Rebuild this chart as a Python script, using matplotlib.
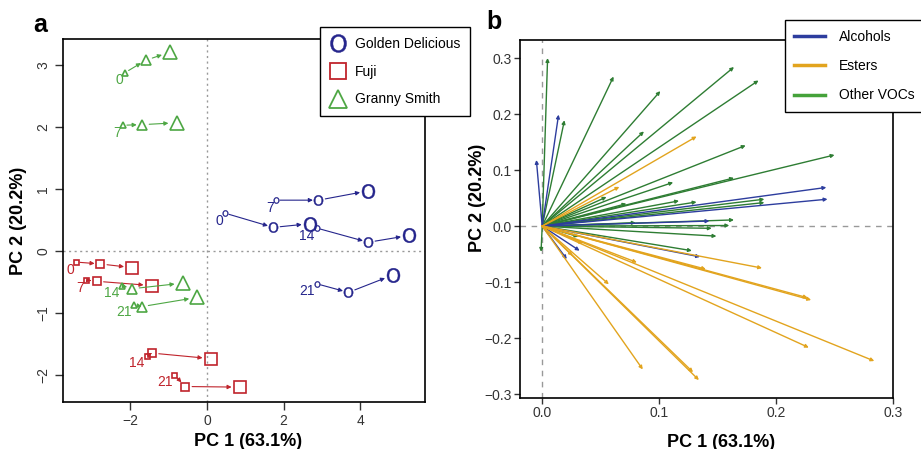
import matplotlib
matplotlib.use("Agg")
import matplotlib.pyplot as plt
from matplotlib.lines import Line2D
from matplotlib.ticker import FuncFormatter

plt.rcParams["font.family"] = ["Liberation Sans", "DejaVu Sans"]

# ---- panel a: sample scores, 4 storage times x 3 points per cultivar ----
days = ["0", "7", "14", "21"]

gd_x = [[0.47, 1.73, 2.69], [1.80, 2.91, 4.21], [2.86, 4.21, 5.28], [2.86, 3.69, 4.85]]
gd_y = [[0.61, 0.38, 0.44], [0.82, 0.82, 0.97], [0.37, 0.14, 0.25], [-0.53, -0.67, -0.39]]

fuji_x = [[-3.42, -2.79, -1.95], [-3.16, -2.88, -1.44], [-1.57, -1.44, 0.10], [-0.85, -0.57, 0.86]]
fuji_y = [[-0.18, -0.21, -0.27], [-0.47, -0.49, -0.56], [-1.69, -1.65, -1.74], [-2.00, -2.19, -2.20]]

gs_x = [[-2.14, -1.60, -0.97], [-2.20, -1.69, -0.79], [-2.23, -1.95, -0.63], [-1.90, -1.71, -0.25]]
gs_y = [[2.88, 3.08, 3.21], [2.03, 2.04, 2.07], [-0.56, -0.61, -0.52], [-0.87, -0.90, -0.75]]

# ---- panel b: loadings (arrow tips) ----
alc_x = [-0.005, 0.014, 0.243, 0.244, 0.143, 0.135, 0.032, 0.021]
alc_y = [0.118, 0.199, 0.069, 0.048, 0.009, -0.055, -0.044, -0.059]

est_x = [0.132, 0.066, 0.188, 0.227, 0.230, 0.228, 0.284, 0.086, 0.134, 0.129,
         0.057, 0.081, 0.140, 0.026, 0.035]
est_y = [0.160, 0.070, -0.075, -0.128, -0.132, -0.217, -0.241, -0.256, -0.275, -0.261,
         -0.104, -0.065, -0.077, -0.053, -0.031]

oth_x = [0.0046, 0.061, 0.101, 0.164, 0.185, 0.019, 0.087, 0.174, 0.250, 0.112,
         0.164, 0.055, 0.072, 0.117, 0.132, 0.190, 0.190, 0.164, 0.080, 0.160,
         0.145, 0.149, 0.128, -0.001, 0.031]
oth_y = [0.300, 0.267, 0.241, 0.284, 0.260, 0.189, 0.169, 0.144, 0.127, 0.078,
         0.086, 0.052, 0.040, 0.045, 0.043, 0.048, 0.042, 0.011, 0.006, 0.001,
         -0.004, -0.018, -0.044, -0.046, -0.019]

C_GD, C_FUJI, C_GS = "#25258c", "#c0242c", "#4ea744"
C_ALC, C_EST, C_OTH = "#2d3d9e", "#e2a41e", "#2e7d33"
O_MARK = r"$\mathsf{O}$"


def minus_fmt(v, _):
    return f"{v:.1f}".replace("-", "\u2212")


fig = plt.figure(figsize=(9.21, 4.49), dpi=100)
ax = fig.add_axes([0.0684, 0.1047, 0.393, 0.808])
bx = fig.add_axes([0.5646, 0.1136, 0.405, 0.797])

# ---------------- panel a ----------------
groups = [
    (gd_x, gd_y, C_GD, O_MARK, [4.5, 7.5, 10.5]),
    (fuji_x, fuji_y, C_FUJI, "s", [3.6, 6.0, 8.6]),
    (gs_x, gs_y, C_GS, "^", [4.5, 7.5, 10.5]),
]
for xs, ys, c, mk, sizes in groups:
    for k, (tx, ty) in enumerate(zip(xs, ys)):
        for i in range(2):
            ax.annotate("", xy=(tx[i + 1], ty[i + 1]), xytext=(tx[i], ty[i]),
                        arrowprops=dict(arrowstyle="-|>", color=c, lw=0.8,
                                        mutation_scale=6, shrinkA=3 + i * 2, shrinkB=4 + i * 2))
        for i in range(3):
            if mk == O_MARK:
                ax.plot(tx[i], ty[i], marker=mk, ms=sizes[i], color=c, mec=c, mew=0.3,
                        ls="none", zorder=3)
            else:
                ax.plot(tx[i], ty[i], marker=mk, ms=sizes[i], mfc="none", mec=c, mew=1.2,
                        ls="none", zorder=3)
        ax.annotate(days[k], (tx[0], ty[0]), xytext=(-1.5, -5.5), textcoords="offset points",
                    ha="right", va="center", color=c, fontsize=10)

ax.axhline(0, color="#999999", lw=1, ls=(0, (1.5, 2.5)), zorder=0)
ax.axvline(0, color="#999999", lw=1, ls=(0, (1.5, 2.5)), zorder=0)
ax.set_xlim(-3.76, 5.69)
ax.set_ylim(-2.44, 3.42)
ax.set_xticks([-2, 0, 2, 4])
ax.set_yticks([-2, -1, 0, 1, 2, 3])
ax.tick_params(length=6, width=1, labelsize=10, colors="#333333", pad=3)
ax.tick_params(axis="y", pad=3)
for lab in ax.get_yticklabels():
    lab.set_rotation(90)
    lab.set_va("center")
for s in ax.spines.values():
    s.set_linewidth(1.2)
ax.set_xlabel("PC 1 (63.1%)", fontsize=13, fontweight="bold")
ax.set_ylabel("PC 2 (20.2%)", fontsize=13, fontweight="bold")
ax.xaxis.set_label_coords(0.51, -0.085)
ax.yaxis.set_label_coords(-0.10, 0.5)

ha = [
    Line2D([], [], marker=O_MARK, ms=13, color=C_GD, mec=C_GD, mew=0.3, ls="none"),
    Line2D([], [], marker="s", ms=11, mfc="none", mec=C_FUJI, mew=1.3, ls="none"),
    Line2D([], [], marker="^", ms=13, mfc="none", mec=C_GS, mew=1.3, ls="none"),
]
leg = fig.legend(ha, ["Golden Delicious", "Fuji", "Granny Smith"], loc="upper left",
                 bbox_to_anchor=(0.3475, 0.94), borderaxespad=0, fontsize=10, frameon=True,
                 fancybox=False, edgecolor="black", framealpha=1, handlelength=1.2,
                 labelspacing=1.0, borderpad=0.7, handletextpad=0.6)
leg.get_frame().set_linewidth(1.0)
fig.text(0.036, 0.944, "a", fontsize=18, fontweight="bold", va="center")

# ---------------- panel b ----------------
for xs, ys, c in [(oth_x, oth_y, C_OTH), (alc_x, alc_y, C_ALC), (est_x, est_y, C_EST)]:
    for x, y in zip(xs, ys):
        bx.annotate("", xy=(x, y), xytext=(0, 0),
                    arrowprops=dict(arrowstyle="-|>", color=c, lw=1.0,
                                    mutation_scale=5, shrinkA=0, shrinkB=0))

bx.axhline(0, color="#999999", lw=1, ls=(0, (4, 4)), zorder=0)
bx.axvline(0, color="#999999", lw=1, ls=(0, (4, 4)), zorder=0)
bx.set_xlim(-0.019, 0.300)
bx.set_ylim(-0.307, 0.332)
bx.set_xticks([0.0, 0.1, 0.2, 0.3])
bx.set_yticks([-0.3, -0.2, -0.1, 0.0, 0.1, 0.2, 0.3])
bx.xaxis.set_major_formatter(FuncFormatter(minus_fmt))
bx.yaxis.set_major_formatter(FuncFormatter(minus_fmt))
bx.tick_params(length=4, width=1, labelsize=10, colors="#333333", pad=2)
for s in bx.spines.values():
    s.set_linewidth(1.2)
bx.set_xlabel("PC 1 (63.1%)", fontsize=13, fontweight="bold")
bx.set_ylabel("PC 2 (20.2%)", fontsize=13, fontweight="bold")
bx.xaxis.set_label_coords(0.54, -0.10)
bx.yaxis.set_label_coords(-0.09, 0.56)

hb = [Line2D([], [], color=C_ALC, lw=2.5),
      Line2D([], [], color=C_EST, lw=2.5),
      Line2D([], [], color="#45a23a", lw=2.5)]
legb = fig.legend(hb, ["Alcohols", "Esters", "Other VOCs"], loc="upper left",
                  bbox_to_anchor=(0.852, 0.955), borderaxespad=0, fontsize=10, frameon=True,
                  fancybox=False, edgecolor="black", framealpha=1, handlelength=2.2,
                  labelspacing=1.1, borderpad=0.7, handletextpad=1.0)
legb.get_frame().set_linewidth(1.0)
fig.text(0.528, 0.95, "b", fontsize=18, fontweight="bold", va="center")

fig.savefig("out.png", dpi=100)
